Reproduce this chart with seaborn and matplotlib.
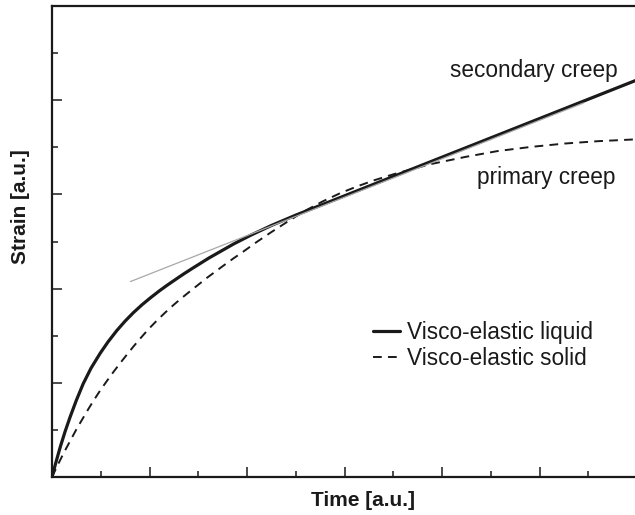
import matplotlib
matplotlib.use("Agg")
import matplotlib.pyplot as plt
import pandas as pd
import seaborn as sns
from matplotlib.ticker import MultipleLocator

# Visco-elastic liquid: primary creep that turns into steady secondary creep
liquid_time = [0, 0.08, 0.17, 0.27, 0.37, 0.50, 0.64, 0.80, 0.99, 1.15, 1.33, 1.50,
               1.67, 1.85, 2.02, 2.20, 2.36, 2.55, 2.70, 2.88, 3.05, 3.22, 3.39,
               3.56, 3.73, 3.90, 4.07, 4.50, 5.0, 5.5, 6.0, 7.0, 8.0, 9.0, 10.0,
               11.0, 12.0]
liquid_strain = [0, 0.31, 0.64, 0.97, 1.27, 1.63, 1.98, 2.31, 2.63, 2.87, 3.11, 3.31,
                 3.49, 3.66, 3.805, 3.95, 4.07, 4.205, 4.31, 4.43, 4.54, 4.65, 4.75,
                 4.85, 4.95, 5.04, 5.13, 5.34, 5.56, 5.765, 5.97, 6.38, 6.79, 7.20,
                 7.61, 8.02, 8.43]

# Visco-elastic solid: strain saturates (primary creep only)
solid_time = [0, 0.12, 0.24, 0.38, 0.51, 0.63, 0.75, 0.87, 0.99, 1.12, 1.26, 1.40,
              1.53, 1.67, 1.81, 1.98, 2.15, 2.32, 2.49, 2.66, 2.84, 3.01, 3.18,
              3.35, 3.52, 3.72, 3.93, 4.20, 4.50, 4.83, 5.17, 5.55, 5.92, 6.26,
              6.61, 6.98, 7.36, 7.80, 8.50, 9.14, 9.84, 10.52, 11.20, 12.0]
solid_strain = [0, 0.26, 0.51, 0.78, 1.03, 1.24, 1.45, 1.65, 1.84, 2.03, 2.23, 2.42,
                2.59, 2.77, 2.94, 3.14, 3.32, 3.49, 3.65, 3.80, 3.95, 4.09, 4.23,
                4.36, 4.49, 4.64, 4.79, 4.99, 5.20, 5.42, 5.64, 5.85, 6.03, 6.17,
                6.30, 6.42, 6.53, 6.65, 6.80, 6.92, 7.01, 7.08, 7.13, 7.17]

# Linear asymptote of the liquid curve (secondary creep rate)
tangent_time = [1.61, 10.9]
tangent_strain = [4.15, 7.94]

labels = ["Visco-elastic liquid", "Visco-elastic solid"]
annotations = ["secondary creep", "primary creep"]

liquid = pd.DataFrame({"time": liquid_time, "strain": liquid_strain})
solid = pd.DataFrame({"time": solid_time, "strain": solid_strain})
tangent = pd.DataFrame({"time": tangent_time, "strain": tangent_strain})

sns.set_theme(style="ticks")
plt.rcParams["font.family"] = ["Liberation Sans", "DejaVu Sans"]

W, H = 635, 515
fig = plt.figure(figsize=(W / 100, H / 100), dpi=100)
ax = fig.add_axes([52 / W, 38 / H, 585 / W, 471 / H])

ink = "#1a1a1a"
sns.lineplot(data=liquid, x="time", y="strain", ax=ax, color=ink, lw=2.3,
             label=labels[0], zorder=3)
sns.lineplot(data=solid, x="time", y="strain", ax=ax, color=ink, lw=1.4,
             label=labels[1], zorder=3)
ax.lines[-1].set_dashes((4.5, 3.2))
sns.lineplot(data=tangent, x="time", y="strain", ax=ax, color="#a8a8a8", lw=0.9,
             zorder=4, legend=False)
for line in ax.lines:
    line.set_solid_joinstyle("round")
    line.set_solid_capstyle("round")

ax.set_xlim(0, 12)
ax.set_ylim(0, 10)
ax.set_xlabel("")
ax.set_ylabel("")

for side in ["left", "bottom", "top", "right"]:
    ax.spines[side].set_linewidth(1.6)
    ax.spines[side].set_color(ink)

ax.xaxis.set_major_locator(MultipleLocator(2))
ax.xaxis.set_minor_locator(MultipleLocator(1))
ax.yaxis.set_major_locator(MultipleLocator(2))
ax.yaxis.set_minor_locator(MultipleLocator(1))
ax.tick_params(which="both", direction="in", color=ink, width=1.1,
               labelbottom=False, labelleft=False, top=False, right=False)
ax.tick_params(which="major", length=7)
ax.tick_params(which="minor", length=4.5)

ax.text(8.16, 8.62, annotations[0], fontsize=16.3, color=ink, ha="left", va="center")
ax.text(8.72, 6.35, annotations[1], fontsize=16.3, color=ink, ha="left", va="center")

handles, _ = ax.get_legend_handles_labels()
ax.legend(handles, labels, loc="upper left", bbox_to_anchor=(373 / W, 1 - 321 / H),
          bbox_transform=fig.transFigure, frameon=False, fontsize=16.3,
          handlelength=1.2, handletextpad=0.3, labelspacing=0.15,
          borderpad=0, borderaxespad=0, labelcolor=ink)

fig.text(21 / W, 1 - 207 / H, "Strain [a.u.]", rotation=90, fontsize=15,
         fontweight="bold", color=ink, ha="center", va="center")
fig.text(363 / W, 1 - 500 / H, "Time [a.u.]", fontsize=15,
         fontweight="bold", color=ink, ha="center", va="center")

fig.savefig("out.png", dpi=100, facecolor="white")
